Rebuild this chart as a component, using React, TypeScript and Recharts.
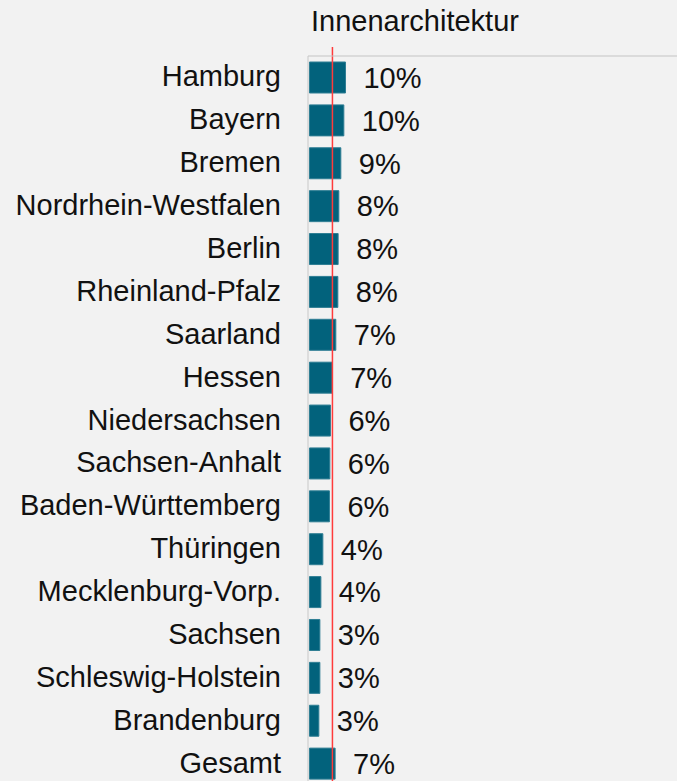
import React from "react";
import { Bar, BarChart, LabelList, ReferenceLine, XAxis, YAxis } from "recharts";

const STATES = [
  "Hamburg",
  "Bayern",
  "Bremen",
  "Nordrhein-Westfalen",
  "Berlin",
  "Rheinland-Pfalz",
  "Saarland",
  "Hessen",
  "Niedersachsen",
  "Sachsen-Anhalt",
  "Baden-Württemberg",
  "Thüringen",
  "Mecklenburg-Vorp.",
  "Sachsen",
  "Schleswig-Holstein",
  "Brandenburg",
  "Gesamt",
];

// bar lengths (share, 0..1)
const SHARES = [
  0.098, 0.0935, 0.0853, 0.0799, 0.078, 0.0772, 0.0717, 0.0617, 0.0571, 0.0554,
  0.0543, 0.0364, 0.031, 0.0283, 0.0283, 0.0255, 0.0698,
];

// printed labels next to the bars
const LABELS = [
  "10%", "10%", "9%", "8%", "8%", "8%", "7%", "7%", "6%", "6%",
  "6%", "4%", "4%", "3%", "3%", "3%", "7%",
];

const TITLE = "Innenarchitektur";
const REFERENCE_SHARE = 0.0625;

const FONT = "'Liberation Sans', Arial, sans-serif";
const FONT_SIZE = 29;
const BAR_COLOR = "#02627c";

const data = STATES.map((name, i) => ({ name, share: SHARES[i], label: LABELS[i] }));

function StateTick(props: any) {
  const { x, y, payload } = props;
  // x already sits 8px left of the axis line
  return (
    <text
      x={x - 19}
      y={y}
      dy={9}
      textAnchor="end"
      fontFamily={FONT}
      fontSize={FONT_SIZE}
      fill="#111"
    >
      {payload.value}
    </text>
  );
}

function RedLine(props: any) {
  const { x1, y1, x2, y2 } = props;
  return <line x1={x1} x2={x2} y1={y1 - 9} y2={y2} stroke="#ff3b3b" strokeWidth={1.5} />;
}

export default function App() {
  return (
    <div
      style={{
        position: "absolute",
        top: 0,
        left: 0,
        width: 677,
        height: 781,
        overflow: "hidden",
        background: "#f2f2f2",
      }}
    >
      <div
        style={{
          position: "absolute",
          left: 311,
          top: 7,
          fontFamily: FONT,
          fontSize: FONT_SIZE,
          lineHeight: "29px",
          color: "#111",
        }}
      >
        {TITLE}
      </div>
      <BarChart
        width={677}
        height={790}
        layout="vertical"
        data={data}
        margin={{ top: 55, right: 0, bottom: 5, left: 0 }}
        barSize={31}
      >
        <XAxis
          type="number"
          orientation="top"
          domain={[-0.004, 1]}
          height={1}
          tick={false}
          tickLine={false}
          axisLine={{ stroke: "#c4c4c4" }}
        />
        <YAxis
          type="category"
          dataKey="name"
          width={308}
          interval={0}
          tickLine={false}
          axisLine={{ stroke: "#c8c8c8" }}
          tick={<StateTick />}
        />
        <Bar
          dataKey="share"
          fill={BAR_COLOR}
          stroke="#2f7e94"
          strokeWidth={1}
          isAnimationActive={false}
        >
          <LabelList
            dataKey="label"
            position="right"
            offset={18}
            style={{ fontFamily: FONT, fontSize: FONT_SIZE, fill: "#111" }}
          />
        </Bar>
        <ReferenceLine x={REFERENCE_SHARE} shape={<RedLine />} />
      </BarChart>
    </div>
  );
}
